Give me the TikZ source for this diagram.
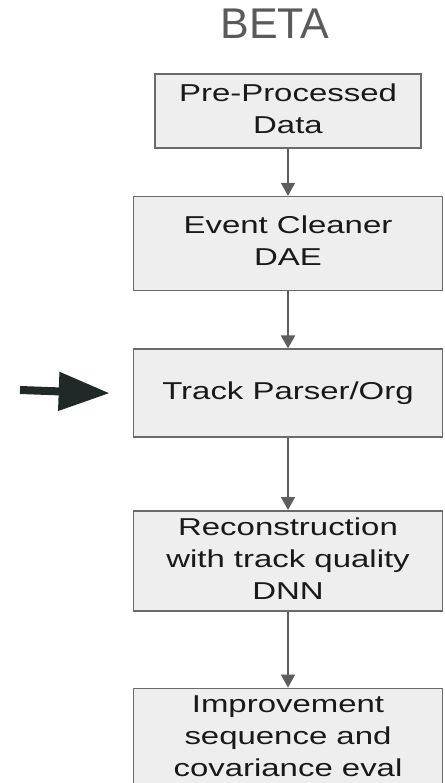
\documentclass[tikz,border=0pt]{standalone}
\usepackage{fontspec}
\setmainfont{Liberation Sans}
\usepackage{graphicx}
\usetikzlibrary{arrows.meta,positioning}
\definecolor{boxfill}{HTML}{EEEEEE}
\definecolor{boxline}{HTML}{6A6A6A}
\definecolor{linegray}{HTML}{5E5E5E}
\definecolor{titlegray}{HTML}{5A5A5A}
\definecolor{pointerblack}{HTML}{212828}
\tikzset
{
    stepnode/.style = {rectangle, draw=boxline, fill=boxfill, line width=1.6pt, align=center, minimum width=309pt, inner sep=0pt, text=black!90, font=\fontsize{24.4pt}{32pt}\selectfont},
    flowarrow/.style = {draw=linegray, line width=2pt, -{Triangle[width=14pt,length=13pt]}},
    pointer/.style = {draw=pointerblack, line width=8pt, -{Triangle[width=37pt,length=51pt]}}
}
\newcommand{\widetext}[1]{\scalebox{1.35}[1]{\begin{tabular}{@{}c@{}}#1\end{tabular}}}

\begin{document}
\begin{tikzpicture}[x=1pt, y=1pt]
\useasboundingbox (0,0) rectangle (444,-783);
\node[anchor=base, text=titlegray, font=\fontsize{43pt}{43pt}\selectfont] (title) at (275,-39) {BETA};
\node[stepnode, minimum width=266pt, minimum height=74pt] (pre) at (288,-111) {\widetext{Pre-Processed\\Data}};
\node[stepnode, minimum height=94pt, below=47pt of pre] (dae) {\widetext{Event Cleaner\\DAE}};
\node[stepnode, minimum height=88pt, below=57pt of dae] (track) {\widetext{Track Parser/Org}};
\node[stepnode, minimum height=100pt, below=72pt of track] (reco) {\widetext{Reconstruction\\with track quality\\DNN}};
\node[stepnode, minimum height=100pt, below=76pt of reco] (impr) {\widetext{Improvement\\sequence and\\covariance eval}};
\draw[flowarrow] (pre) -- (dae);
\draw[flowarrow] (dae) -- (track);
\draw[flowarrow] (track) -- (reco);
\draw[flowarrow] (reco) -- (impr);
% pointer at the current step
\coordinate (ptrstart) at (20,-390);
\draw[pointer] (ptrstart) -- ([xshift=-23pt]track.west);
\end{tikzpicture}
\end{document}
